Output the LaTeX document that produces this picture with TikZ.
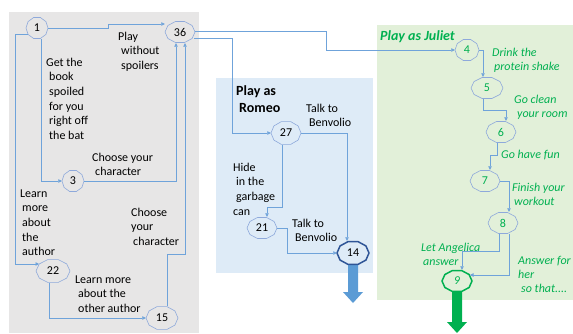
\documentclass[tikz,border=0pt]{standalone}
\usepackage{fontspec}
\setmainfont{Carlito}
\usetikzlibrary{shapes.geometric,arrows.meta,calc}
\definecolor{graybg}{HTML}{E7E6E6}
\definecolor{bluebg}{HTML}{DEEBF7}
\definecolor{greenbg}{HTML}{E2F0D9}
\definecolor{nodeln}{HTML}{8EA9DB}
\definecolor{connc}{HTML}{6FA3DA}
\definecolor{darkbl}{HTML}{2F5597}
\definecolor{jgreen}{HTML}{00B050}
\definecolor{bigblue}{HTML}{5B9BD5}
\newcommand\lns[1]{\begin{tabular}[t]{@{}l@{}}#1\end{tabular}}
\newcommand\dnode[7]{%
  \draw[#7,shift={(#2,#3)}] (0:#4pt and #5pt) \foreach \k in {1,...,9}{ -- (\k*36:#4pt and #5pt)} -- cycle;
  \node[numtext,ellipse,inner sep=0pt,minimum width={2*#4pt},minimum height={2*#5pt}] (#1) at (#2,#3) {#6};}
\begin{document}
\begin{tikzpicture}[x=1pt,y=-1pt,
  numtext/.style={font=\fontsize{12}{14}\selectfont},
  nodeline/.style={draw=nodeln,line width=0.6pt},
  conn/.style={draw=connc,line width=0.6pt,-{Triangle[length=3.5pt,width=3.5pt]}},
  lbl/.style={anchor=base west,inner sep=0pt,font=\fontsize{12}{14.7}\selectfont},
  glbl/.style={lbl,text=jgreen,font=\fontsize{12}{14.3}\selectfont\itshape},
  ttl/.style={anchor=base west,inner sep=0pt,font=\fontsize{14}{17}\selectfont\bfseries}]
\useasboundingbox (0,0) rectangle (573,333);
% panels
\fill[graybg] (9,12) rectangle (199,333);
\fill[bluebg] (216,78) rectangle (373,273);
\fill[greenbg] (377,25) rectangle (573,300);
% nodes
\dnode{n1}{37}{28}{11}{11}{1}{nodeline}
\dnode{n36}{180}{32}{15}{11}{36}{nodeline}
\dnode{n3}{73}{181}{11}{11}{3}{nodeline}
\dnode{n22}{53}{271}{17}{12}{22}{nodeline}
\dnode{n15}{162}{318}{16}{12}{15}{nodeline}
\dnode{n27}{286}{133}{15}{12}{27}{nodeline}
\dnode{n21}{262}{228}{15}{11}{21}{nodeline}
% big arrows
\fill[bigblue] ($(353,265)+(-5,0)$) -- ++(10,0) -- ++(0,27) -- ++(5,0) -- ++(-10,11) -- ++(-10,-11) -- ++(5,0) -- cycle;
\fill[jgreen] ($(457,292)+(-5,0)$) -- ++(10,0) -- ++(0,30) -- ++(5,0) -- ++(-10,11) -- ++(-10,-11) -- ++(5,0) -- cycle;
\dnode{n14}{353}{253}{16}{12}{14}{draw=darkbl,line width=1.5pt,fill=bluebg}
\dnode{n4}{467}{50}{12}{11}{\color{jgreen}4}{nodeline}
\dnode{n5}{487}{88}{16}{11}{\color{jgreen}5}{nodeline}
\dnode{n6}{501}{132}{15}{11}{\color{jgreen}6}{nodeline}
\dnode{n7}{485}{181}{15}{11}{\color{jgreen}7}{nodeline}
\dnode{n8}{503}{223}{15}{11}{\color{jgreen}8}{nodeline}
\dnode{n9}{457}{281}{15}{11}{\color{jgreen}\itshape 9}{draw=jgreen,line width=1.5pt,fill=greenbg}
% helper coordinates
\coordinate (c1) at (108,24);
\coordinate (c2) at (15,264);
\coordinate (c3) at (185,254);
\coordinate (c4) at (326,31);
\coordinate (c5) at (232,38);
\coordinate (c6) at (287,228);
% connectors
\draw[conn] (n1.east) -- (108,28) -- (c1) -- (c1 -| n36.west);
\draw[conn] ($(n1.center)+(-9,6)$) -- (15,34) -- (c2) -- ($(n22.center)+(-14,-7)$);
\draw[conn] ($(n1.south)+(4,0)$) |- (n3.west);
\draw[conn] (n3.east) -| ($(n36.south)+(-4,0)$);
\draw[conn] ($(n22.south)+(-4,0)$) |- (n15.west);
\draw[conn] ($(n15.north)+(5,0)$) |- (c3) -- ($(n36.south)+(5,0)$);
\draw[conn] ($(n36.east)+(0,-1)$) -- (c4) |- (n4.west);
\draw[conn] ($(n36.center)+(14,6)$) -- (c5) |- (n27.west);
\draw[conn] ($(n27.south)+(-4,0)$) |- ($(n21.north)+(5,-10)$) -- ($(n21.north)+(5,0)$);
\draw[conn] (n27.east) -| ($(n14.north)+(-6,0)$);
\draw[conn] (n21.east) -- (c6) |- (n14.west);
\draw[conn] (n4.east) -| ($(n5.north)+(-4,0)$);
\draw[conn] ($(n5.south)+(-4,0)$) |- ($(n6.north)+(5,-11)$) -- ($(n6.north)+(5,0)$);
\draw[conn] ($(n6.south)+(-4,0)$) |- ($(n7.north)+(5,-15)$) -- ($(n7.north)+(5,0)$);
\draw[conn] (n7.east) -| ($(n8.north)+(6,0)$);
\draw[conn] ($(n8.south)+(-4,0)$) |- ($(n9.north)+(5,-19)$) -- ($(n9.north)+(5,0)$);
\draw[conn] ($(n8.south)+(6,0)$) |- ($(n9.center)+(13,-6)$);
% labels
\node[lbl] (l1) at (118,40) {\lns{Play\\\hspace{3pt}without\\\hspace{3pt}spoilers}};
\node[lbl] (l2) at (46,66) {\lns{Get the\\\hspace{3pt}book\\\hspace{3pt}spoiled\\\hspace{3pt}for you\\\hspace{3pt}right off\\\hspace{3pt}the bat}};
\node[lbl] (l3) at (92,161) {\lns{Choose your\\\hspace{3pt}character}};
\node[lbl] (l4) at (20,197) {\lns{Learn\\\hspace{2pt}more\\\hspace{2pt}about\\\hspace{2pt}the\\\hspace{2pt}author}};
\node[lbl] (l5) at (131,216) {\lns{Choose\\your\\\hspace{2pt}character}};
\node[lbl] (l6) at (75,283) {\lns{Learn more\\\hspace{3pt}about the\\\hspace{3pt}other author}};
\node[ttl] (t1) at (236,95) {\lns{Play as\\\hspace{3pt}Romeo}};
\node[lbl] (l7) at (306,112) {\lns{Talk to\\\hspace{3pt}Benvolio}};
\node[lbl] (l8) at (233,171) {\lns{Hide\\\hspace{3pt}in the\\\hspace{3pt}garbage\\can}};
\node[lbl] (l9) at (292,227) {\lns{Talk to\\\hspace{3pt}Benvolio}};
\node[ttl,text=jgreen,font=\fontsize{14}{17}\selectfont\bfseries\itshape] (t2) at (380,40) {Play as Juliet};
\node[glbl] (g1) at (492,56) {\lns{Drink the\\\hspace{2pt}protein shake}};
\node[glbl] (g2) at (514,103) {\lns{Go clean\\\hspace{3pt}your room}};
\node[glbl] (g3) at (501,158) {Go have fun};
\node[glbl] (g4) at (512,191) {\lns{Finish your\\\hspace{2pt}workout}};
\node[glbl] (g5) at (421,251) {\lns{Let Angelica\\\hspace{2pt}answer}};
\node[glbl] (g6) at (518,264) {\lns{Answer for\\her\\\hspace{3pt}so that....}};
\end{tikzpicture}
\end{document}
